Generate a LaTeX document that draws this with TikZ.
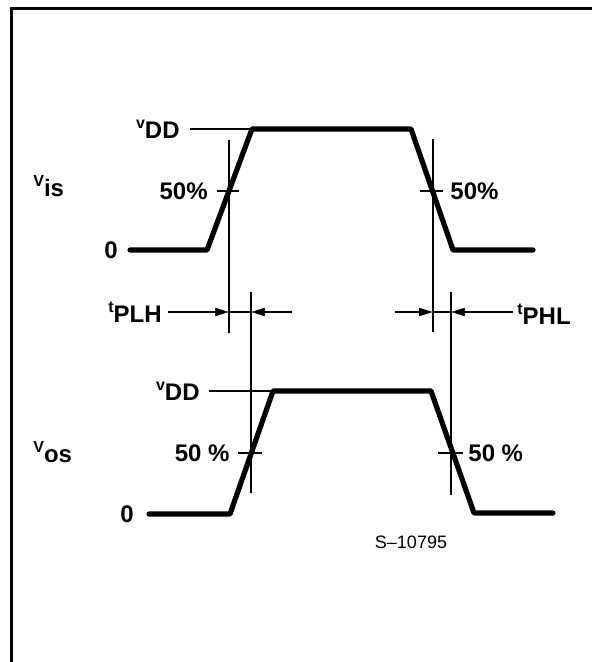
\documentclass[tikz,border=0pt]{standalone}
\usepackage{fontspec}
\setmainfont{Liberation Sans}
\usetikzlibrary{arrows.meta,positioning}
\newcommand{\RaisedLab}[2]{\raisebox{0.4em}{\footnotesize #1}#2}
\tikzset{
  timing/.style={x=0.5pt,y=-0.5pt,font=\fontsize{12}{14}\selectfont\bfseries},
  wave/.style={line width=2.6pt,line join=round,line cap=round},
  guide/.style={line width=1pt},
  delay/.style={line width=1pt,-{Triangle[length=7pt,width=4pt]}},
  lab/.style={inner sep=1pt},
}
\begin{document}
\begin{tikzpicture}[timing]
  \useasboundingbox (0,0) rectangle (592,662);
  % frame (left and top edge only)
  \draw[line width=1.5pt] (11,662) -- (11,9) -- (592,9);

  % input waveform
  \draw[wave] (130,250) -- (207,250) -- (252,129) -- (411,129) -- (453,250) -- (533,250);
  \node[lab,anchor=east] (vddi) at (182,129) {\RaisedLab{v}{DD}};
  \draw[guide] (vddi.east) ++(8,0) -- (252,129);
  \node[lab,anchor=east] (zeroi) at (120,250) {0};
  \node[lab,anchor=west] (vis) at (31,186) {\RaisedLab{V}{is}};
  \node[lab,anchor=east] (halfil) at (210,191) {50\%};
  \node[lab,anchor=west] (halfir) at (448,191) {50\%};
  \draw[guide] (217,191) -- (239,191);
  \draw[guide] (420,191) -- (443,191);

  % output waveform
  \draw[wave] (149,514) -- (230,514) -- (273,391) -- (431,391) -- (474,513) -- (553,513);
  \node[lab,anchor=east] (vddo) at (202,391) {\RaisedLab{v}{DD}};
  \draw[guide] (vddo.east) ++(7,0) -- (273,391);
  \node[lab,anchor=east] (zeroo) at (136,514) {0};
  \node[lab,anchor=west] (vos) at (31,452) {\RaisedLab{V}{os}};
  \node[lab,anchor=east] (halfol) at (232,453) {50 \%};
  \node[lab,anchor=west] (halfor) at (466,453) {50 \%};
  \draw[guide] (238,453) -- (262,453);
  \draw[guide] (438,453) -- (463,453);

  % 50% crossing markers
  \coordinate (riseIn) at (229,312);
  \coordinate (riseOut) at (251,312);
  \coordinate (fallIn) at (433,312);
  \coordinate (fallOut) at (451,312);
  \draw[guide] (229,140) -- (229,333);
  \draw[guide] (433,139) -- (433,332);
  \draw[guide] (251,292) -- (251,493);
  \draw[guide] (451,292) -- (451,495);

  % propagation delays
  \node[lab,anchor=east] (tplh) at (164,312) {\RaisedLab{t}{PLH}};
  \coordinate (plhR) at (292,312);
  \draw[delay] (tplh.east) ++(4,0) -- (riseIn);
  \draw[delay] (plhR) -- (riseOut);
  \draw[guide] (riseIn) -- (riseOut);
  \node[lab,anchor=west] (tphl) at (515,314) {\RaisedLab{t}{PHL}};
  \coordinate (phlL) at (395,312);
  \draw[delay] (phlL) -- (fallIn);
  \draw[delay] (tphl.west) ++(-2,-2) -- (fallOut);
  \draw[guide] (fallIn) -- (fallOut);

  \node[lab,font=\small] (code) at (411,542) {S--10795};
\end{tikzpicture}
\end{document}
